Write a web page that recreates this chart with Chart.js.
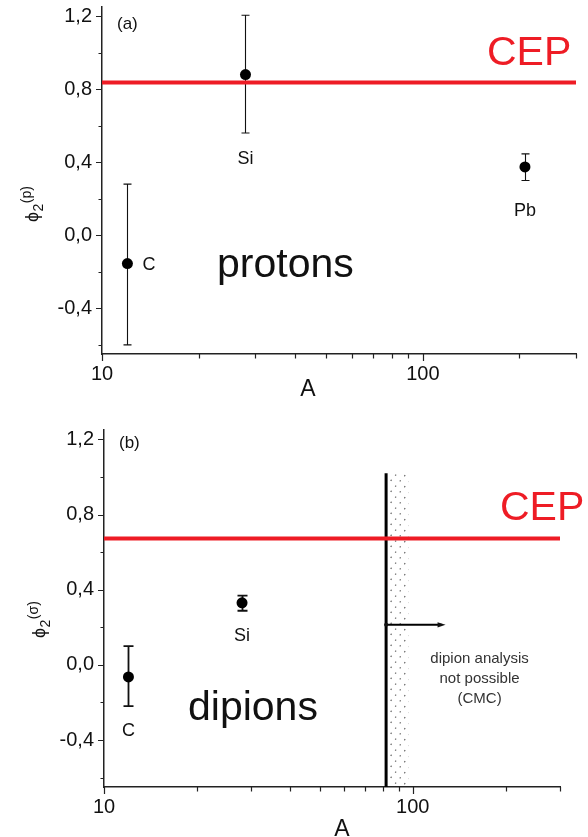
<!DOCTYPE html>
<html>
<head>
<meta charset="utf-8">
<script src="https://cdn.jsdelivr.net/npm/chart.js@4.4.1/dist/chart.umd.min.js"></script>
<style>
    html, body { margin: 0; padding: 0; background: #fff; }
    #wrap { position: relative; width: 588px; height: 837px; overflow: hidden; }
    .panel { position: absolute; left: 0; width: 588px; }
    #panel-a { top: 0; height: 420px; }
    #panel-b { top: 420px; height: 417px; }
</style>
</head>
<body>
<div id="wrap">
    <div class="panel" id="panel-a"><canvas id="chart-a"></canvas></div>
    <div class="panel" id="panel-b"><canvas id="chart-b"></canvas></div>
</div>
<script>
const FONT = '"Liberation Sans", Arial, Helvetica, sans-serif';
const RED = '#ee1c25';
const INK = '#111';

// shared axes: A on a log axis, phi_2 on a linear one
const xMin = 10, xMax = 300;
const xTickValues = [10, 20, 30, 40, 50, 60, 70, 80, 90, 100, 200, 300];
const xLabelValues = [10, 100];
const yMin = -0.65, yMax = 1.25;
const yTickValues = [-0.6, -0.4, -0.2, 0, 0.2, 0.4, 0.6, 0.8, 1.0, 1.2];
const yLabelValues = [-0.4, 0, 0.4, 0.8, 1.2];

// (a) protons
const protonTargets = ['C', 'Si', 'Pb'];
const protonA = [12, 28, 208];
const protonPhi = [-0.155, 0.88, 0.374];
const protonPhiLow = [-0.60, 0.56, 0.30];
const protonPhiHigh = [0.28, 1.205, 0.446];
const protonCEP = 0.836;

// (b) dipions
const dipionTargets = ['C', 'Si'];
const dipionA = [12, 28];
const dipionPhi = [-0.064, 0.33];
const dipionPhiLow = [-0.22, 0.288];
const dipionPhiHigh = [0.10, 0.368];
const dipionCEP = 0.672;

// CMC limit for the dipion analysis
const cmcLimitA = 82;
const cmcBandEndA = 97;
const cmcLimitTop = 1.02;
const cmcArrowPhi = 0.213;
const cmcArrowEndA = 124;
const cmcNote = ['dipion analysis', 'not possible', '(CMC)'];

const panels = [
    {
        canvas: 'chart-a',
        tag: '(a)', tagPos: [117, 29],
        name: 'protons', namePos: [217, 277],
        sup: '(p)', titlePos: [38, 222],
        xTitlePos: [308, 396],
        padding: { left: 0, right: 12, top: 7, bottom: 0 },
        yAxisWidth: 102, xAxisHeight: 66,
        cepPos: [487, 65],
        targets: protonTargets, a: protonA, phi: protonPhi, low: protonPhiLow, high: protonPhiHigh,
        labelPlace: ['right', 'below', 'below'], labelGap: [15, 17, 22],
        errWidth: 1.1, cap: 4,
        cep: protonCEP,
        cmc: false
    },
    {
        canvas: 'chart-b',
        tag: '(b)', tagPos: [119, 28],
        name: 'dipions', namePos: [188, 300],
        sup: '(σ)', titlePos: [45, 218],
        xTitlePos: [342, 416],
        padding: { left: 0, right: 28, top: 10, bottom: 0 },
        yAxisWidth: 104, xAxisHeight: 50,
        cepPos: [500, 100],
        targets: dipionTargets, a: dipionA, phi: dipionPhi, low: dipionPhiLow, high: dipionPhiHigh,
        labelPlace: ['below', 'below'], labelGap: [16, 16],
        errWidth: 1.8, cap: 5,
        cep: dipionCEP,
        cmc: true
    }
];

const fmtPhi = v => v.toFixed(1).replace('.', ',');
const isMajorY = v => yLabelValues.some(l => Math.abs(l - v) < 1e-9);

function drawErrorBars(chart, p) {
    const { ctx, scales: { x, y } } = chart;
    ctx.save();
    ctx.strokeStyle = INK;
    ctx.lineWidth = p.errWidth;
    p.a.forEach((a, i) => {
        const px = Math.round(x.getPixelForValue(a)) + 0.5;
        const lo = y.getPixelForValue(p.low[i]);
        const hi = y.getPixelForValue(p.high[i]);
        ctx.beginPath();
        ctx.moveTo(px, lo); ctx.lineTo(px, hi);
        ctx.moveTo(px - p.cap, lo); ctx.lineTo(px + p.cap, lo);
        ctx.moveTo(px - p.cap, hi); ctx.lineTo(px + p.cap, hi);
        ctx.stroke();
    });
    ctx.restore();
}

// dotted hatching right of the CMC limit
function drawCmcBand(chart) {
    const { ctx, scales: { x, y }, chartArea } = chart;
    const xs = x.getPixelForValue(cmcLimitA);
    const xe = x.getPixelForValue(cmcBandEndA);
    const yt = y.getPixelForValue(cmcLimitTop);
    const yb = chartArea.bottom;
    ctx.save();
    ctx.beginPath();
    ctx.rect(xs + 2, yt, xe - xs - 2, yb - yt);
    ctx.clip();
    ctx.strokeStyle = '#666';
    ctx.lineWidth = 1.2;
    ctx.setLineDash([1.4, 5.5]);
    for (let y0 = yb + 40; y0 > yt - 10; y0 -= 11) {
        ctx.beginPath();
        ctx.moveTo(xs, y0);
        ctx.lineTo(xe + 2, y0 - 28);
        ctx.stroke();
    }
    ctx.restore();
}

function drawTickMarks(chart) {
    const { ctx, scales: { x, y }, chartArea } = chart;
    ctx.save();
    ctx.strokeStyle = '#222';
    ctx.lineWidth = 1.2;
    ctx.beginPath();
    y.ticks.forEach(t => {
        const py = Math.round(y.getPixelForValue(t.value)) + 0.5;
        const len = isMajorY(t.value) ? 6 : 3.5;
        ctx.moveTo(chartArea.left, py);
        ctx.lineTo(chartArea.left - len, py);
    });
    x.ticks.forEach(t => {
        const px = Math.round(x.getPixelForValue(t.value)) + 0.5;
        const len = xLabelValues.includes(t.value) ? 7 : 4.5;
        ctx.moveTo(px, chartArea.bottom);
        ctx.lineTo(px, chartArea.bottom + len);
    });
    ctx.stroke();
    ctx.restore();
}

function drawTexts(chart, p) {
    const { ctx, scales: { x, y } } = chart;
    ctx.save();
    ctx.fillStyle = INK;
    ctx.textAlign = 'left';
    ctx.textBaseline = 'alphabetic';

    // panel tag and particle name
    ctx.font = `17px ${FONT}`;
    ctx.fillText(p.tag, p.tagPos[0], p.tagPos[1]);
    ctx.font = `41px ${FONT}`;
    ctx.fillText(p.name, p.namePos[0], p.namePos[1]);

    // CEP value label
    ctx.fillStyle = RED;
    ctx.font = `41px ${FONT}`;
    ctx.fillText('CEP', p.cepPos[0], p.cepPos[1]);

    // target labels next to each point
    ctx.fillStyle = INK;
    ctx.font = `18px ${FONT}`;
    p.targets.forEach((name, i) => {
        const px = x.getPixelForValue(p.a[i]);
        if (p.labelPlace[i] === 'right') {
            ctx.textAlign = 'left';
            ctx.textBaseline = 'middle';
            ctx.fillText(name, px + p.labelGap[i], y.getPixelForValue(p.phi[i]) + 1);
        } else {
            ctx.textAlign = 'center';
            ctx.textBaseline = 'top';
            ctx.fillText(name, px, y.getPixelForValue(p.low[i]) + p.labelGap[i]);
        }
    });

    // x axis title
    ctx.textAlign = 'center';
    ctx.textBaseline = 'alphabetic';
    ctx.font = `23px ${FONT}`;
    ctx.fillText('A', p.xTitlePos[0], p.xTitlePos[1]);

    // y axis title: phi_2 with superscript, read bottom to top
    ctx.translate(p.titlePos[0], p.titlePos[1]);
    ctx.rotate(-Math.PI / 2);
    ctx.textAlign = 'left';
    ctx.font = `18px ${FONT}`;
    ctx.fillText('ϕ', 0, 0);
    let w = ctx.measureText('ϕ').width;
    ctx.font = `14px ${FONT}`;
    ctx.fillText('2', w + 0.5, 5);
    w += ctx.measureText('2').width + 1;
    ctx.fillText(p.sup, w, -7);
    ctx.restore();
}

function drawCmcNote(chart) {
    const { ctx, scales: { x, y } } = chart;
    const x0 = x.getPixelForValue(cmcLimitA);
    const x1 = x.getPixelForValue(cmcArrowEndA);
    const py = y.getPixelForValue(cmcArrowPhi);
    ctx.save();
    // arrow head
    ctx.fillStyle = INK;
    ctx.beginPath();
    ctx.moveTo(x1 + 4, py);
    ctx.lineTo(x1 - 4, py - 2.6);
    ctx.lineTo(x1 - 4, py + 2.6);
    ctx.closePath();
    ctx.fill();
    ctx.beginPath();
    ctx.arc(x0, py, 2, 0, Math.PI * 2);
    ctx.fill();

    ctx.fillStyle = '#333';
    ctx.font = `15px ${FONT}`;
    ctx.textAlign = 'center';
    ctx.textBaseline = 'alphabetic';
    const cx = x1 + 38;
    cmcNote.forEach((line, i) => ctx.fillText(line, cx, py + 38 + i * 20));
    ctx.restore();
}

function figurePlugin(p) {
    return {
        id: 'figure',
        beforeDatasetsDraw(chart) {
            if (p.cmc) drawCmcBand(chart);
            drawErrorBars(chart, p);
        },
        afterDraw(chart) {
            drawTickMarks(chart);
            drawTexts(chart, p);
            if (p.cmc) drawCmcNote(chart);
        }
    };
}

function buildChart(p) {
    const datasets = [
        {
            type: 'scatter',
            data: p.a.map((a, i) => ({ x: a, y: p.phi[i] })),
            pointRadius: 5.5,
            pointBackgroundColor: '#000',
            pointBorderWidth: 0
        },
        {
            type: 'line',
            data: [{ x: xMin, y: p.cep }, { x: xMax, y: p.cep }],
            borderColor: RED,
            borderWidth: 4,
            pointRadius: 0
        }
    ];
    if (p.cmc) {
        datasets.push({
            type: 'line',
            data: [{ x: cmcLimitA, y: yMin }, { x: cmcLimitA, y: cmcLimitTop }],
            borderColor: '#000',
            borderWidth: 3,
            pointRadius: 0
        });
        datasets.push({
            type: 'line',
            data: [{ x: cmcLimitA, y: cmcArrowPhi }, { x: cmcArrowEndA, y: cmcArrowPhi }],
            borderColor: '#000',
            borderWidth: 2,
            pointRadius: 0
        });
    }

    return new Chart(document.getElementById(p.canvas), {
        data: { datasets },
        options: {
            responsive: true,
            maintainAspectRatio: false,
            animation: false,
            devicePixelRatio: 1,
            events: [],
            layout: { padding: p.padding },
            plugins: {
                legend: { display: false },
                tooltip: { enabled: false }
            },
            scales: {
                x: {
                    type: 'logarithmic',
                    min: xMin,
                    max: xMax,
                    afterBuildTicks: scale => { scale.ticks = xTickValues.map(v => ({ value: v })); },
                    afterFit: scale => {
                        scale.height = p.xAxisHeight;
                        scale.paddingLeft = 0;
                        scale.paddingRight = 0;
                    },
                    grid: { display: true, drawOnChartArea: false, drawTicks: false },
                    border: { display: true, color: '#222', width: 1.5 },
                    ticks: {
                        autoSkip: false,
                        maxRotation: 0,
                        padding: 8,
                        color: INK,
                        font: { family: FONT, size: 20 },
                        callback: v => xLabelValues.includes(v) ? String(v) : ''
                    }
                },
                y: {
                    type: 'linear',
                    min: yMin,
                    max: yMax,
                    afterBuildTicks: scale => { scale.ticks = yTickValues.map(v => ({ value: v })); },
                    afterFit: scale => {
                        scale.width = p.yAxisWidth;
                        scale.paddingTop = 0;
                        scale.paddingBottom = 0;
                    },
                    grid: { display: true, drawOnChartArea: false, drawTicks: false },
                    border: { display: true, color: '#222', width: 1.5 },
                    ticks: {
                        autoSkip: false,
                        padding: 10,
                        color: INK,
                        font: { family: FONT, size: 20 },
                        callback: v => isMajorY(v) ? fmtPhi(v) : ''
                    }
                }
            }
        },
        plugins: [figurePlugin(p)]
    });
}

panels.forEach(buildChart);
</script>
</body>
</html>
